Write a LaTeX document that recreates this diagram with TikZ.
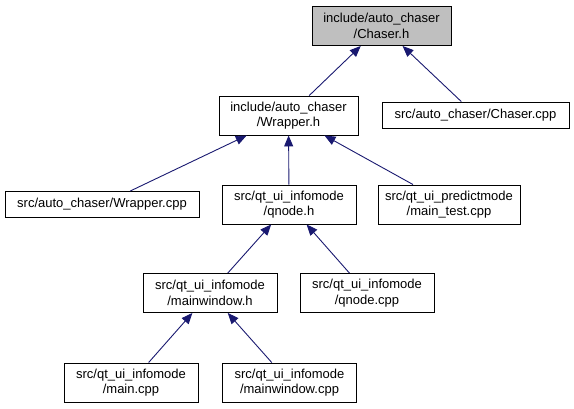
\documentclass[tikz,border=0pt]{standalone}
\usepackage{fontspec}
\setmainfont{Liberation Sans}
\usepackage{tikz}
\usetikzlibrary{arrows.meta}
\definecolor{edgeblue}{HTML}{191970}
\definecolor{rootgray}{HTML}{BFBFBF}

\begin{document}
\begin{tikzpicture}[
  x=1pt, y=-1pt,
  font=\fontsize{13}{15.5}\selectfont,
  file/.style={draw, line width=0.9pt, align=center, inner sep=0pt, minimum height=39pt},
  onefile/.style={file, minimum height=26pt},
  arr/.style={-{Triangle[length=11pt, width=9pt]}, edgeblue, line width=0.9pt}]
\useasboundingbox (0,0) rectangle (574,409);
% header at the top
\node[file, fill=rootgray, minimum width=139pt] (chaserh) at (381.5,26) {include/auto\_chaser\\/Chaser.h};
% second row
\node[file, minimum width=139pt] (wrapperh) at (288.5,115.5) {include/auto\_chaser\\/Wrapper.h};
\node[onefile, minimum width=187pt] (chasercpp) at (475.5,115) {src/auto\_chaser/Chaser.cpp};
% third row
\node[onefile, minimum width=194pt] (wrappercpp) at (102,204.5) {src/auto\_chaser/Wrapper.cpp};
\node[file, minimum width=134pt] (qnodeh) at (289,204.5) {src/qt\_ui\_infomode\\/qnode.h};
\node[file, minimum width=142pt] (maintest) at (449,204.5) {src/qt\_ui\_predictmode\\/main\_test.cpp};
% fourth row
\node[file, minimum width=134pt] (mainwindowh) at (210,293) {src/qt\_ui\_infomode\\/mainwindow.h};
\node[file, minimum width=134pt] (qnodecpp) at (367,293) {src/qt\_ui\_infomode\\/qnode.cpp};
% bottom row
\node[file, minimum width=134pt] (maincpp) at (131,382.5) {src/qt\_ui\_infomode\\/main.cpp};
\node[file, minimum width=134pt] (mainwindowcpp) at (289.5,382.5) {src/qt\_ui\_infomode\\/mainwindow.cpp};
% include edges, pointing at the included file
\draw[arr] (wrapperh) -- (chaserh);
\draw[arr] (chasercpp) -- (chaserh);
\draw[arr] (wrappercpp) -- (wrapperh);
\draw[arr] (qnodeh) -- (wrapperh);
\draw[arr] (maintest) -- (wrapperh);
\draw[arr] (mainwindowh) -- (qnodeh);
\draw[arr] (qnodecpp) -- (qnodeh);
\draw[arr] (maincpp) -- (mainwindowh);
\draw[arr] (mainwindowcpp) -- (mainwindowh);
\end{tikzpicture}
\end{document}
